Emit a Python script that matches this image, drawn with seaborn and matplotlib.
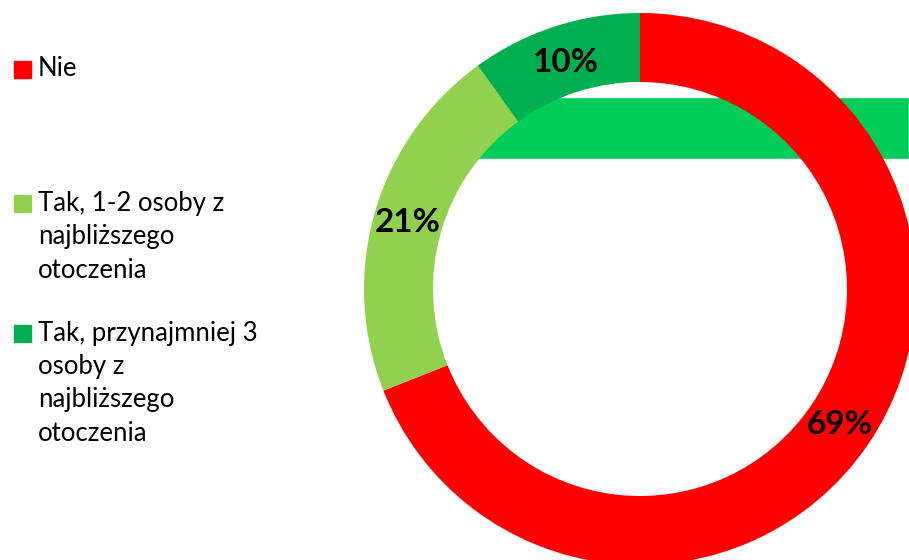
import matplotlib
matplotlib.use('Agg')
import matplotlib.pyplot as plt
from matplotlib.patches import Rectangle
import seaborn as sns

# data
categories = ["Nie",
              "Tak, 1-2 osoby z\nnajbliższego\notoczenia",
              "Tak, przynajmniej 3\nosoby z\nnajbliższego\notoczenia"]
values = [69, 21, 10]
labels = ["69%", "21%", "10%"]
colors = ["#FF0000", "#92D050", "#00B050"]
bar_color = "#00CC5A"

sns.set_theme(style="white")
plt.rcParams['font.family'] = ['Lato', 'DejaVu Sans']

W, H = 909, 560
fig = plt.figure(figsize=(W / 100, H / 100), dpi=100)
ax = fig.add_axes([0, 0, 1, 1])

# stray bar behind the donut
ax.barh(y=H - 128, width=W - 470, left=470, height=62, color=bar_color, zorder=1)

cx, cy, r = 640, H - 289, 276
wedges, _ = ax.pie(values, colors=colors, startangle=90, counterclock=False,
                   center=(cx, cy), radius=r, frame=True,
                   wedgeprops=dict(width=r * 0.25, linewidth=0))
for w in wedges:
    w.set_zorder(2)
ax.set_xlim(0, W)
ax.set_ylim(0, H)
ax.set_aspect('equal')
ax.axis('off')

label_pos = [(840, H - 425), (408, H - 222), (566, H - 62)]
for (x, y), t in zip(label_pos, labels):
    ax.text(x, y, t, ha='center', va='center', fontsize=24, fontweight='bold',
            color='black', zorder=3)

# legend
leg_y = [69, 203, 333]
for y, c, cat in zip(leg_y, colors, categories):
    ax.add_patch(Rectangle((14, H - y - 8.5), 17, 17, color=c, zorder=3))
    for i, ln in enumerate(cat.split("\n")):
        ax.text(38, H - y - i * 33.5, ln, ha='left', va='center', fontsize=18.5,
                color='black', zorder=3)

fig.savefig("out.png", dpi=100)
